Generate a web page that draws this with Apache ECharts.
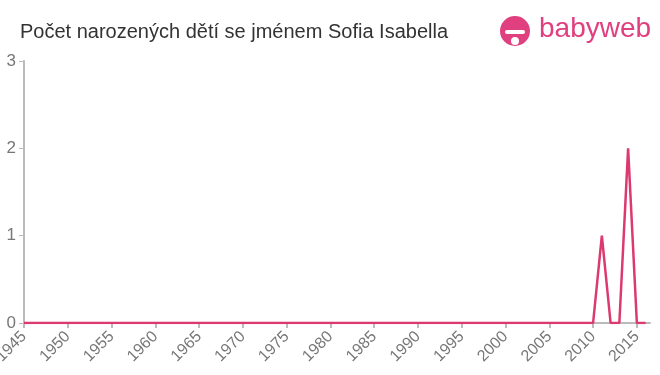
<!DOCTYPE html>
<html><head><meta charset="utf-8">
<script src="https://cdn.jsdelivr.net/npm/echarts@6/dist/echarts.min.js"></script>
<style>html,body{margin:0;padding:0;background:#fff}#c{width:660px;height:375px}</style>
</head><body><div id="c"></div>
<script>
const titleText = 'Počet narozených dětí se jménem Sofia Isabella';
const years = [1945,1946,1947,1948,1949,1950,1951,1952,1953,1954,1955,1956,1957,1958,1959,1960,1961,1962,1963,1964,1965,1966,1967,1968,1969,1970,1971,1972,1973,1974,1975,1976,1977,1978,1979,1980,1981,1982,1983,1984,1985,1986,1987,1988,1989,1990,1991,1992,1993,1994,1995,1996,1997,1998,1999,2000,2001,2002,2003,2004,2005,2006,2007,2008,2009,2010,2011,2012,2013,2014,2015,2016];
const counts = [0,0,0,0,0,0,0,0,0,0,0,0,0,0,0,0,0,0,0,0,0,0,0,0,0,0,0,0,0,0,0,0,0,0,0,0,0,0,0,0,0,0,0,0,0,0,0,0,0,0,0,0,0,0,0,0,0,0,0,0,0,0,0,0,0,0,1,0,0,2,0,0];
const xTicks = [1945,1950,1955,1960,1965,1970,1975,1980,1985,1990,1995,2000,2005,2010,2015];
const yTicks = [0,1,2,3];

const chart = echarts.init(document.getElementById('c'));
chart.setOption({
  animation: false,
  grid: {left: 24, right: 10, top: 61, bottom: 52, containLabel: false, outerBoundsMode: 'none'},
  title: {text: titleText, left: 15, top: 17, textStyle: {fontFamily: 'Liberation Sans, Arial, sans-serif', fontSize: 20, fontWeight: 'normal', color: '#333'}},
  graphic: [
    {type: 'circle', shape: {cx: 515, cy: 31, r: 15}, style: {fill: '#e0407f'}},
    {type: 'circle', shape: {cx: 515, cy: 41, r: 4}, style: {fill: '#fff'}},
    {type: 'rect', shape: {x: 505, y: 30, width: 20, height: 4, r: 2}, style: {fill: '#fff'}},
    {type: 'text', left: 539, top: 15, style: {text: 'babyweb', fontFamily: 'Liberation Sans, Arial, sans-serif', fontSize: 28, fill: '#e0407f'}}
  ],
  xAxis: {
    type: 'value', min: 1945, max: 2016.5,
    axisLine: {show: true, lineStyle: {color: '#bbb', width: 2}},
    axisTick: {show: true, length: 5, lineStyle: {color: '#bbb', width: 2}, customValues: xTicks},
    axisLabel: {rotate: 45, color: '#777', fontSize: 16, fontFamily: 'Liberation Sans, Arial, sans-serif', margin: 11, customValues: xTicks, formatter: v => String(v)},
    splitLine: {show: false}
  },
  yAxis: {
    type: 'value', min: 0, max: 3, interval: 1,
    axisLine: {show: true, lineStyle: {color: '#bbb', width: 2}},
    axisTick: {show: true, length: 5, lineStyle: {color: '#bbb', width: 1}},
    axisLabel: {color: '#777', fontSize: 17, fontFamily: 'Liberation Sans, Arial, sans-serif', margin: 8, customValues: yTicks},
    splitLine: {show: false}
  },
  series: [{
    type: 'line',
    data: years.map((y, i) => [y, counts[i]]),
    showSymbol: false,
    lineStyle: {color: '#dc3a6e', width: 2.5},
    itemStyle: {color: '#dc3a6e'}
  }]
});
</script></body></html>
